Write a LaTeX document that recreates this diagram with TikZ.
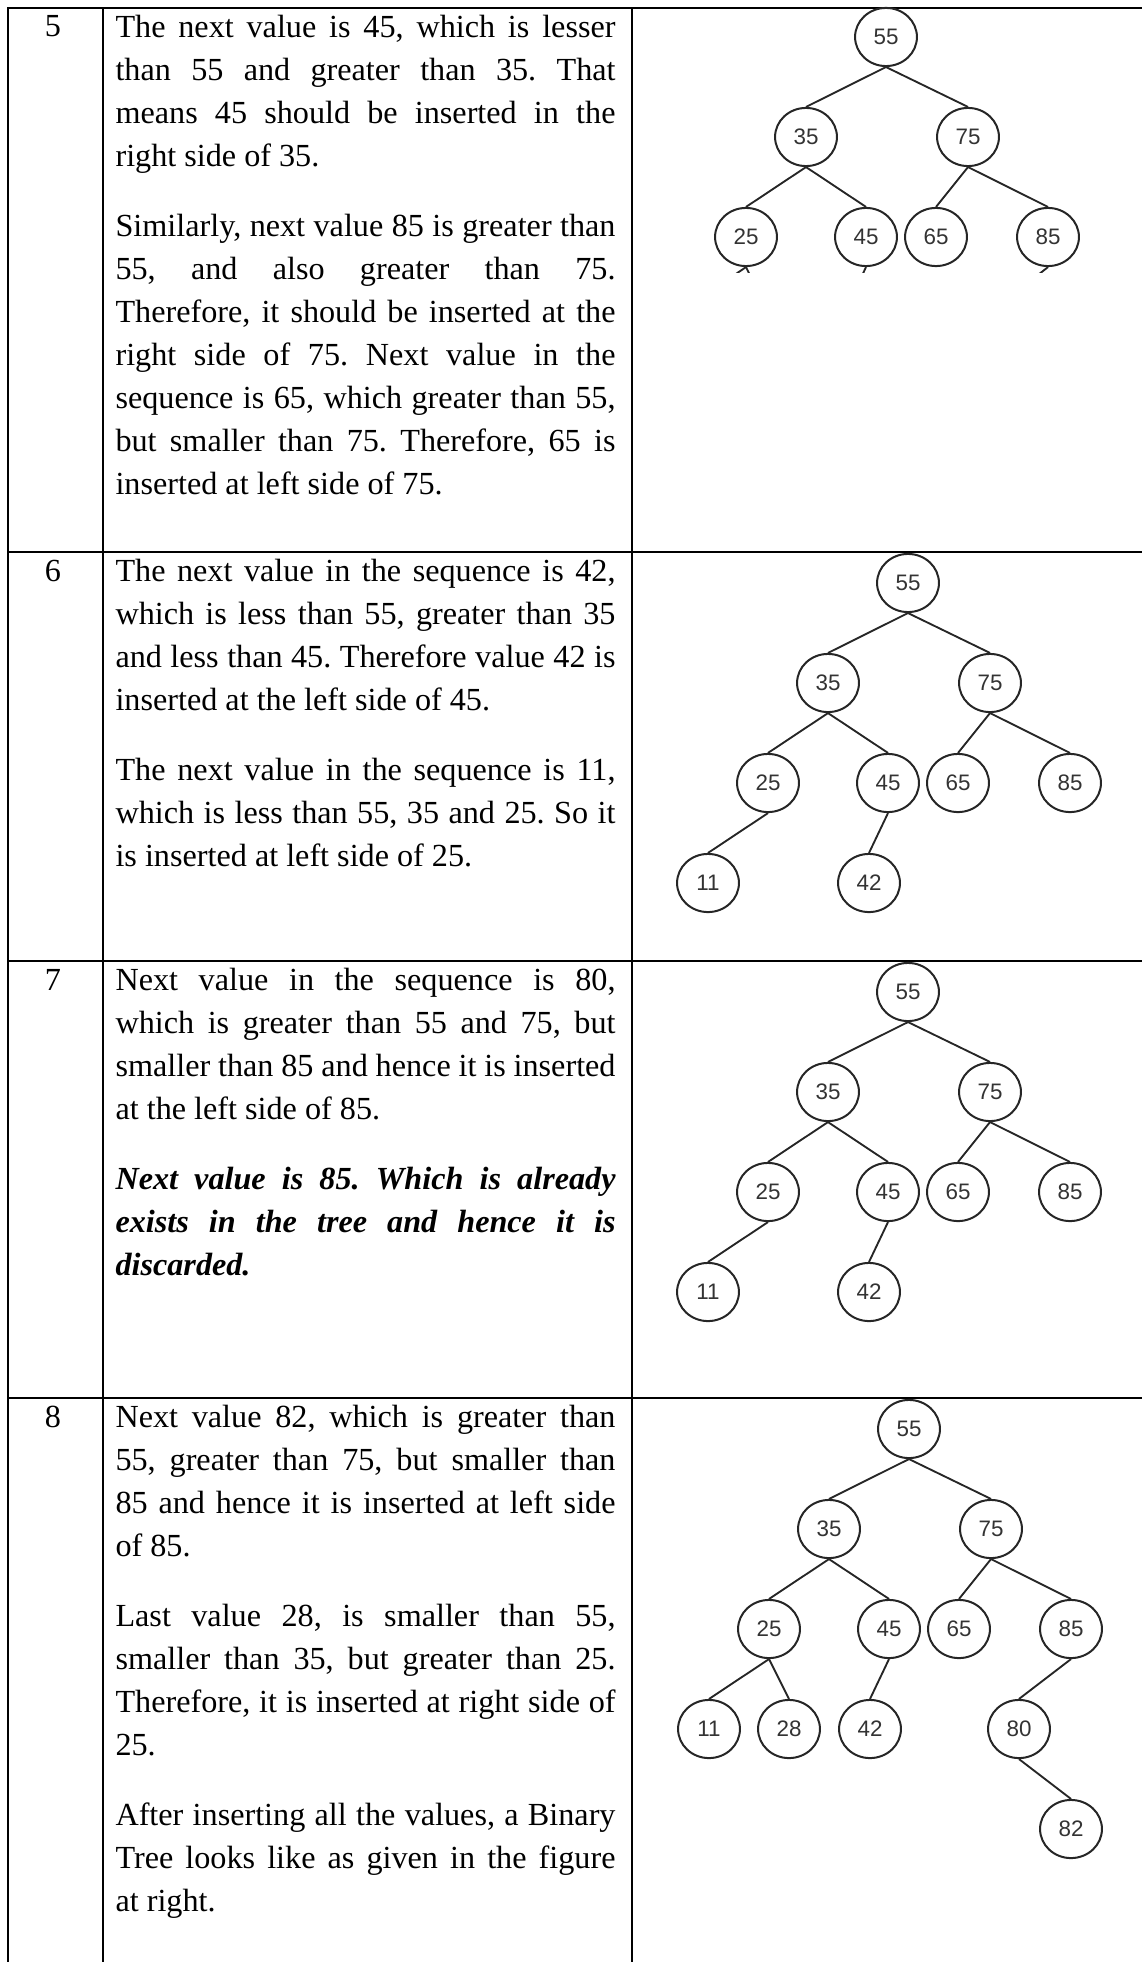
\documentclass[tikz,border=0pt]{standalone}
\usepackage{fontspec}
\setmainfont{Liberation Serif}
\newfontfamily\keyfamily{Liberation Sans}
\usetikzlibrary{shapes.geometric}
\frenchspacing

\newcommand{\cellfont}{\fontsize{12.07}{16.125}\selectfont\tolerance=9999\hbadness=10000}

\tikzset{
  rule/.style={line width=1pt, line cap=rect},
  num/.style={anchor=base, inner sep=0pt, font=\cellfont},
  cell/.style={anchor=north west, inner sep=0pt, text width=187.5pt, align=justify, font=\cellfont},
  key/.style={ellipse, draw=black!85, line width=0.75pt, minimum width=23.2pt, minimum height=21.8pt,
    inner sep=0pt, text=black!80, font=\keyfamily\fontsize{8.4}{10}\selectfont},
  link/.style={draw=black!85, line width=0.7pt},
}

\begin{document}
\begin{tikzpicture}[x=0.375pt, y=-0.375pt]
    \useasboundingbox (0,0) rectangle (1141,1962);

    % Table rules
    \draw[rule] (8,8) -- (1141,8);
    \draw[rule] (8,552) -- (1141,552);
    \draw[rule] (8,961) -- (1141,961);
    \draw[rule] (8,1398) -- (678,1398);
    \draw[line width=0.4pt] (678,1398) -- (1102,1398);
    \draw[rule] (1102,1398) -- (1141,1398);
    \foreach \x in {8,103,632} \draw[rule] (\x,8) -- (\x,1962);

    % Step numbers
    \node[num] (s5) at (53,37) {5};
    \node[num] (s6) at (53,581) {6};
    \node[num] (s7) at (53,990) {7};
    \node[num] (s8) at (53,1427) {8};

    % Explanations
    \node[cell] (p5a) at (115,7) {\strut The next value is 45, which is lesser\linebreak than 55 and greater than 35. That\linebreak means 45 should be inserted in the\linebreak right side of 35.};
    \node[cell] (p5b) at (115,206) {\strut Similarly, next value 85 is greater than\linebreak 55, and also greater than 75.\linebreak Therefore, it should be inserted at the\linebreak right side of 75. Next value in the\linebreak sequence is 65, which greater than 55,\linebreak but smaller than 75. Therefore, 65 is\linebreak inserted at left side of 75.};

    \node[cell] (p6a) at (115,551) {\strut The next value in the sequence is 42,\linebreak which is less than 55, greater than 35\linebreak and less than 45. Therefore value 42 is\linebreak inserted at the left side of 45.};
    \node[cell] (p6b) at (115,750) {\strut The next value in the sequence is 11,\linebreak which is less than 55, 35 and 25. So it\linebreak is inserted at left side of 25.};

    \node[cell] (p7a) at (115,960) {\strut Next value in the sequence is 80,\linebreak which is greater than 55 and 75, but\linebreak smaller than 85 and hence it is inserted\linebreak at the left side of 85.};
    \node[cell] (p7b) at (115,1159) {\strut\bfseries\itshape Next value is 85. Which is already\linebreak exists in the tree and hence it is\linebreak discarded.};

    \node[cell] (p8a) at (115,1397) {\strut Next value 82, which is greater than\linebreak 55, greater than 75, but smaller than\linebreak 85 and hence it is inserted at left side\linebreak of 85.};
    \node[cell] (p8b) at (115,1596) {\strut Last value 28, is smaller than 55,\linebreak smaller than 35, but greater than 25.\linebreak Therefore, it is inserted at right side of\linebreak 25.};
    \node[cell] (p8c) at (115,1795) {\strut After inserting all the values, a Binary\linebreak Tree looks like as given in the figure\linebreak at right.};

    % Tree after step 5 (picture cut off below the third level)
    \begin{scope}[shift={(886,37)}]
        \foreach \k/\x/\y in {55/0/0,35/-80/100,75/82/100,25/-140/200,45/-20/200,65/50/200,85/162/200}
            \node[key] (a\k) at (\x,\y) {\k};
        \foreach \p/\c in {55/35,55/75,35/25,35/45,75/65,75/85}
            \draw[link] (a\p.south) -- (a\c.north);
        \begin{scope}
            \clip (-300,200) rectangle (300,235);
            \coordinate (a11) at (-200,271);
            \coordinate (a28) at (-120,271);
            \coordinate (a42) at (-39,271);
            \coordinate (a80) at (110,271);
            \draw[link] (a25.south) -- (a11);
            \draw[link] (a25.south) -- (a28);
            \draw[link] (a45.south) -- (a42);
            \draw[link] (a85.south) -- (a80);
        \end{scope}
    \end{scope}

    % Tree after step 6
    \begin{scope}[shift={(908,583)}]
        \foreach \k/\x/\y in {55/0/0,35/-80/100,75/82/100,25/-140/200,45/-20/200,65/50/200,85/162/200,11/-200/300,42/-39/300}
            \node[key] (b\k) at (\x,\y) {\k};
        \foreach \p/\c in {55/35,55/75,35/25,35/45,75/65,75/85,25/11,45/42}
            \draw[link] (b\p.south) -- (b\c.north);
    \end{scope}

    % Tree after step 7 (unchanged)
    \begin{scope}[shift={(908,992)}]
        \foreach \k/\x/\y in {55/0/0,35/-80/100,75/82/100,25/-140/200,45/-20/200,65/50/200,85/162/200,11/-200/300,42/-39/300}
            \node[key] (c\k) at (\x,\y) {\k};
        \foreach \p/\c in {55/35,55/75,35/25,35/45,75/65,75/85,25/11,45/42}
            \draw[link] (c\p.south) -- (c\c.north);
    \end{scope}

    % Final tree after step 8
    \begin{scope}[shift={(909,1429)}]
        \foreach \k/\x/\y in {55/0/0,35/-80/100,75/82/100,25/-140/200,45/-20/200,65/50/200,85/162/200,11/-200/300,28/-120/300,42/-39/300,80/110/300,82/162/400}
            \node[key] (d\k) at (\x,\y) {\k};
        \foreach \p/\c in {55/35,55/75,35/25,35/45,75/65,75/85,25/11,25/28,45/42,85/80,80/82}
            \draw[link] (d\p.south) -- (d\c.north);
    \end{scope}
\end{tikzpicture}
\end{document}
